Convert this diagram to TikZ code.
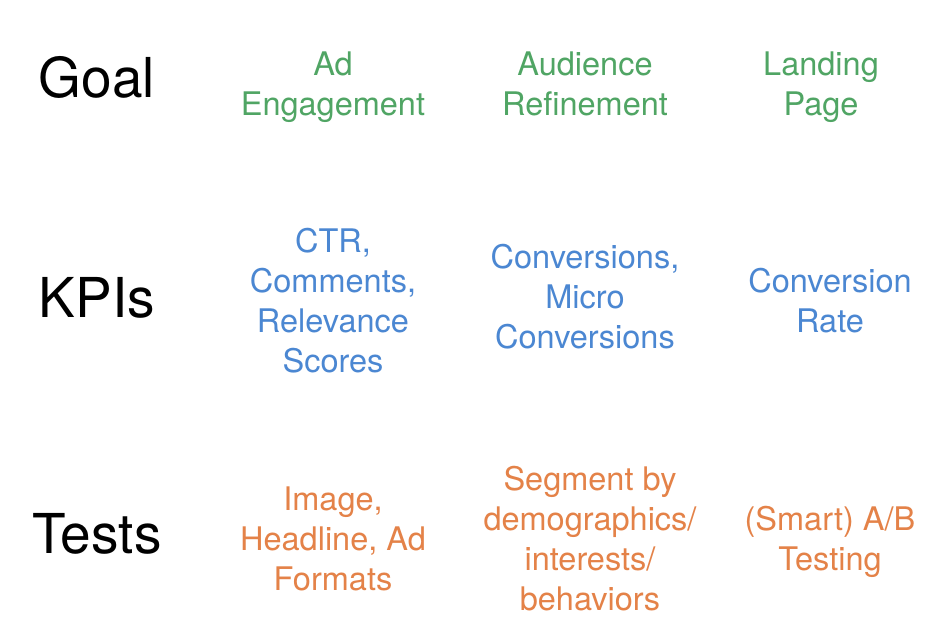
\documentclass[tikz,border=0pt]{standalone}
\usepackage{fontspec}
\setmainfont{TeX Gyre Heros}
\definecolor{goalc}{RGB}{80,165,100}
\definecolor{kpic}{RGB}{75,135,210}
\definecolor{testc}{RGB}{228,130,72}
\tikzset{
  rowlab/.style={anchor=base, inner sep=0pt, font=\fontsize{55}{60}\selectfont, text=black},
  cell/.style={anchor=base, inner sep=0pt, align=center, font=\fontsize{32.5}{40}\selectfont},
  goalcell/.style={cell, text=goalc},
  kpicell/.style={cell, text=kpic},
  testcell/.style={cell, text=testc}
}
\begin{document}
\begin{tikzpicture}[x=1pt,y=-1pt]
\useasboundingbox[fill=white] (0,0) rectangle (940,632);
\node[rowlab] (goal) at (97,97) {Goal};
\node[rowlab] (kpis) at (97,317) {KPIs};
\node[rowlab] (tests) at (97,553) {Tests};
\node[goalcell] (g1) at (333,115) {Ad\\Engagement};
\node[goalcell] (g2) at (585,115) {Audience\\Refinement};
\node[goalcell] (g3) at (821,115) {Landing\\Page};
\node[kpicell] (k1) at (333,372) {CTR,\\Comments,\\Relevance\\Scores};
\node[kpicell] (k2) at (585,348) {Conversions,\\Micro\\Conversions};
\node[kpicell] (k3) at (830,332) {Conversion\\Rate};
\node[testcell] (t1) at (333,590) {Image,\\Headline, Ad\\Formats};
\node[testcell] (t2) at (590,610) {Segment by\\demographics/\\interests/\\behaviors};
\node[testcell] (t3) at (830,570) {(Smart) A/B\\Testing};
\end{tikzpicture}
\end{document}
